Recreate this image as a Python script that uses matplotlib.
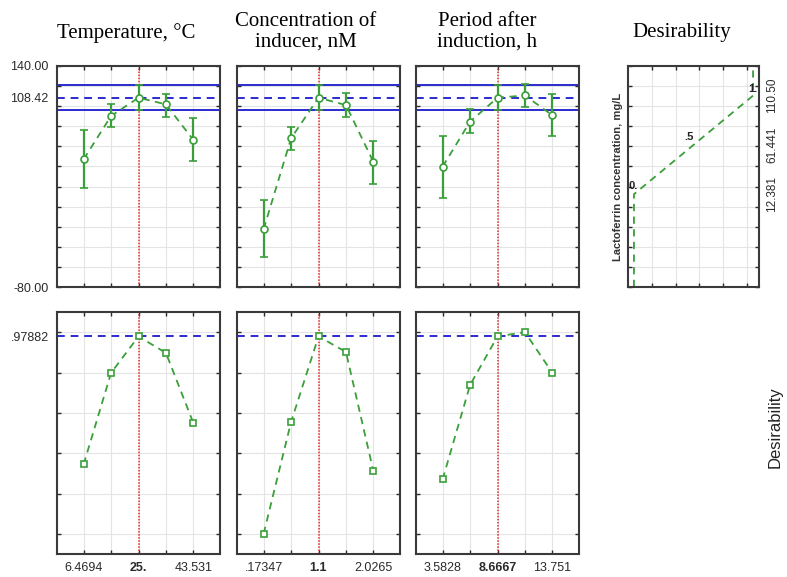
import matplotlib.pyplot as plt
import numpy as np

plt.rcParams['font.family'] = ['Liberation Sans', 'DejaVu Sans']

# factor levels
temp_levels = [6.4694, 15.7347, 25.0, 34.2653, 43.531]
conc_levels = [0.17347, 0.63674, 1.1, 1.56326, 2.0265]
period_levels = [3.5828, 6.12475, 8.6667, 11.2086, 13.751]

temp_ticks = ['6.4694', '', '25.', '', '43.531']
conc_ticks = ['.17347', '', '1.1', '', '2.0265']
period_ticks = ['3.5828', '', '8.6667', '', '13.751']

# predicted lactoferrin with confidence limits
temp_pred = [47.1, 90.2, 108.42, 101.8, 66.3]
temp_low = [19.0, 79.6, 96.0, 89.5, 45.5]
temp_high = [76.3, 102.5, 121.0, 111.7, 88.5]

conc_pred = [-22.5, 68.0, 108.42, 101.1, 44.5]
conc_low = [-50.6, 56.1, 96.0, 89.5, 23.0]
conc_high = [6.4, 79.3, 121.0, 113.4, 65.5]

period_pred = [39.8, 84.6, 108.42, 110.7, 90.9]
period_low = [9.0, 73.6, 96.0, 99.1, 70.3]
period_high = [70.3, 96.8, 121.0, 122.3, 111.7]

# desirability profiles
temp_desir = [0.344, 0.798, 0.97882, 0.897, 0.549]
conc_desir = [0.0, 0.554, 0.97882, 0.902, 0.311]
period_desir = [0.270, 0.738, 0.97882, 1.0, 0.798]

pred_opt = 108.42
pred_ci = [96.0, 121.0]
desir_opt = 0.97882

# desirability function of lactoferrin concentration
lf_values = [-80.0, 12.381, 61.441, 110.50, 140.0]
lf_desir = [0.0, 0.0, 0.5, 1.0, 1.0]
lf_labels = ['0.', '.5', '1.']

W, H = 787, 577
green = '#3a9f3a'
blue = '#2b2bd0'
red = '#e02a2a'
frame = '#3a3a3a'
gridc = '#e4e4e4'
tickc = '#2a2a2a'

fig = plt.figure(figsize=(W / 100, H / 100), dpi=100)


def style(ax):
    for s in ax.spines.values():
        s.set_color(frame)
        s.set_linewidth(1.5)
    ax.tick_params(which='major', direction='in', length=3, width=1, color=tickc,
                   top=True, right=True, labelsize=9, labelcolor=tickc)
    ax.grid(True, which='major', color=gridc, lw=0.8)
    ax.set_axisbelow(True)


factors = [
    (temp_levels, temp_pred, temp_low, temp_high, temp_desir, temp_ticks),
    (conc_levels, conc_pred, conc_low, conc_high, conc_desir, conc_ticks),
    (period_levels, period_pred, period_low, period_high, period_desir, period_ticks),
]
lefts = [57, 237, 416]

for i, (x, pred, low, high, desir, ticks) in enumerate(factors):
    x = np.array(x)
    pred = np.array(pred)
    step = x[1] - x[0]
    xlim = (x[2] - 2.97 * step, x[2] + 2.97 * step)

    # top row: predicted values
    ax = fig.add_axes([lefts[i] / W, (H - 287) / H, 163 / W, 221 / H])
    style(ax)
    ax.set_xlim(xlim)
    ax.set_ylim(-80, 140)
    ax.axhline(pred_ci[0], color=blue, lw=1.4)
    ax.axhline(pred_ci[1], color=blue, lw=1.4)
    ax.axhline(pred_opt, color=blue, lw=1.4, ls=(0, (4, 3)))
    ax.axvline(x[2], color=red, lw=1.1, ls=(0, (1, 1)))
    ax.plot(x, pred, color=green, lw=1.3, ls=(0, (4, 3)))
    ax.errorbar(x, pred, yerr=[pred - np.array(low), np.array(high) - pred],
                fmt='o', ms=5, mfc='white', mec=green, mew=1.2,
                ecolor=green, elinewidth=1.6, capsize=3, capthick=1.4)
    ax.set_xticks(x, [''] * 5)
    yt = np.arange(-80, 141, 20)
    if i == 0:
        ax.set_yticks(yt, ['-80.00'] + [''] * 10 + ['140.00'])
        ax.set_yticks([pred_opt], ['108.42'], minor=True)
        ax.tick_params(which='minor', length=0, labelsize=9, labelcolor=tickc, pad=6)
        ax.tick_params(which='major', pad=6)
    else:
        ax.set_yticks(yt, [''] * len(yt))

    # bottom row: desirability
    axb = fig.add_axes([lefts[i] / W, (H - 554) / H, 163 / W, 242 / H])
    style(axb)
    axb.set_xlim(xlim)
    axb.set_ylim(-0.1, 1.1)
    axb.axhline(desir_opt, color=blue, lw=1.4, ls=(0, (4, 3)))
    axb.axvline(x[2], color=red, lw=1.1, ls=(0, (1, 1)))
    axb.plot(x, desir, color=green, lw=1.3, ls=(0, (4, 3)),
             marker='s', ms=5, mfc='white', mec=green, mew=1.2)
    axb.set_xticks(x, ticks)
    axb.tick_params(axis='x', pad=6)
    axb.get_xticklabels()[2].set_fontweight('bold')
    dt = np.arange(0, 1.01, 0.2)
    axb.set_yticks(dt, [''] * len(dt))
    if i == 0:
        axb.set_yticks([desir_opt], ['.97882'], minor=True)
        axb.tick_params(which='minor', length=0, labelsize=9, labelcolor=tickc, pad=6)

# desirability function panel
axd = fig.add_axes([628 / W, (H - 287) / H, 131 / W, 221 / H])
style(axd)
axd.set_xlim(-0.05, 1.05)
axd.set_ylim(-80, 140)
axd.plot(lf_desir, lf_values, color=green, lw=1.3, ls=(0, (4, 3)))
axd.set_xticks([0.15, 0.35, 0.55, 0.75, 0.95], [''] * 5)
yt = np.arange(-80, 141, 20)
axd.set_yticks(yt, [''] * len(yt))
axd.set_yticks(lf_values[1:4], ['12.381', '61.441', '110.50'], minor=True)
axd.tick_params(axis='y', which='minor', length=0, labelleft=False, labelright=True,
                labelrotation=90, labelsize=8.5, labelcolor=tickc, pad=5)
for lab in axd.get_yticklabels(minor=True):
    lab.set_va('center')
axd.set_ylabel('Lactoferrin concentration, mg/L', fontsize=8, fontweight='bold',
               color='#333333', labelpad=0)
offsets = [(-4, 2), (-3, 2), (0, 1)]
for d, v, lab, off in zip(lf_desir[1:4], lf_values[1:4], lf_labels, offsets):
    axd.annotate(lab, (d, v), xytext=off, textcoords='offset points',
                 ha='left' if lab == '0.' else 'center', va='bottom',
                 fontsize=8, fontweight='bold', color='#222222')

# titles
serif = ['Liberation Serif', 'DejaVu Serif']
fig.text(126 / W, 1 - 33 / H, 'Temperature, \u00b0C', ha='center', va='center',
         family=serif, fontsize=15)
fig.text(306 / W, 1 - 32 / H, 'Concentration of\ninducer, nM', ha='center', va='center',
         family=serif, fontsize=15, linespacing=1.1)
fig.text(487 / W, 1 - 32 / H, 'Period after\ninduction, h', ha='center', va='center',
         family=serif, fontsize=15, linespacing=1.1)
fig.text(682 / W, 1 - 33 / H, 'Desirability', ha='center', va='center',
         family=serif, fontsize=15)
fig.text(775 / W, 1 - 427 / H, 'Desirability', ha='center', va='center',
         rotation=90, fontsize=12, color='#222222')

fig.savefig('out.png', dpi=100)
